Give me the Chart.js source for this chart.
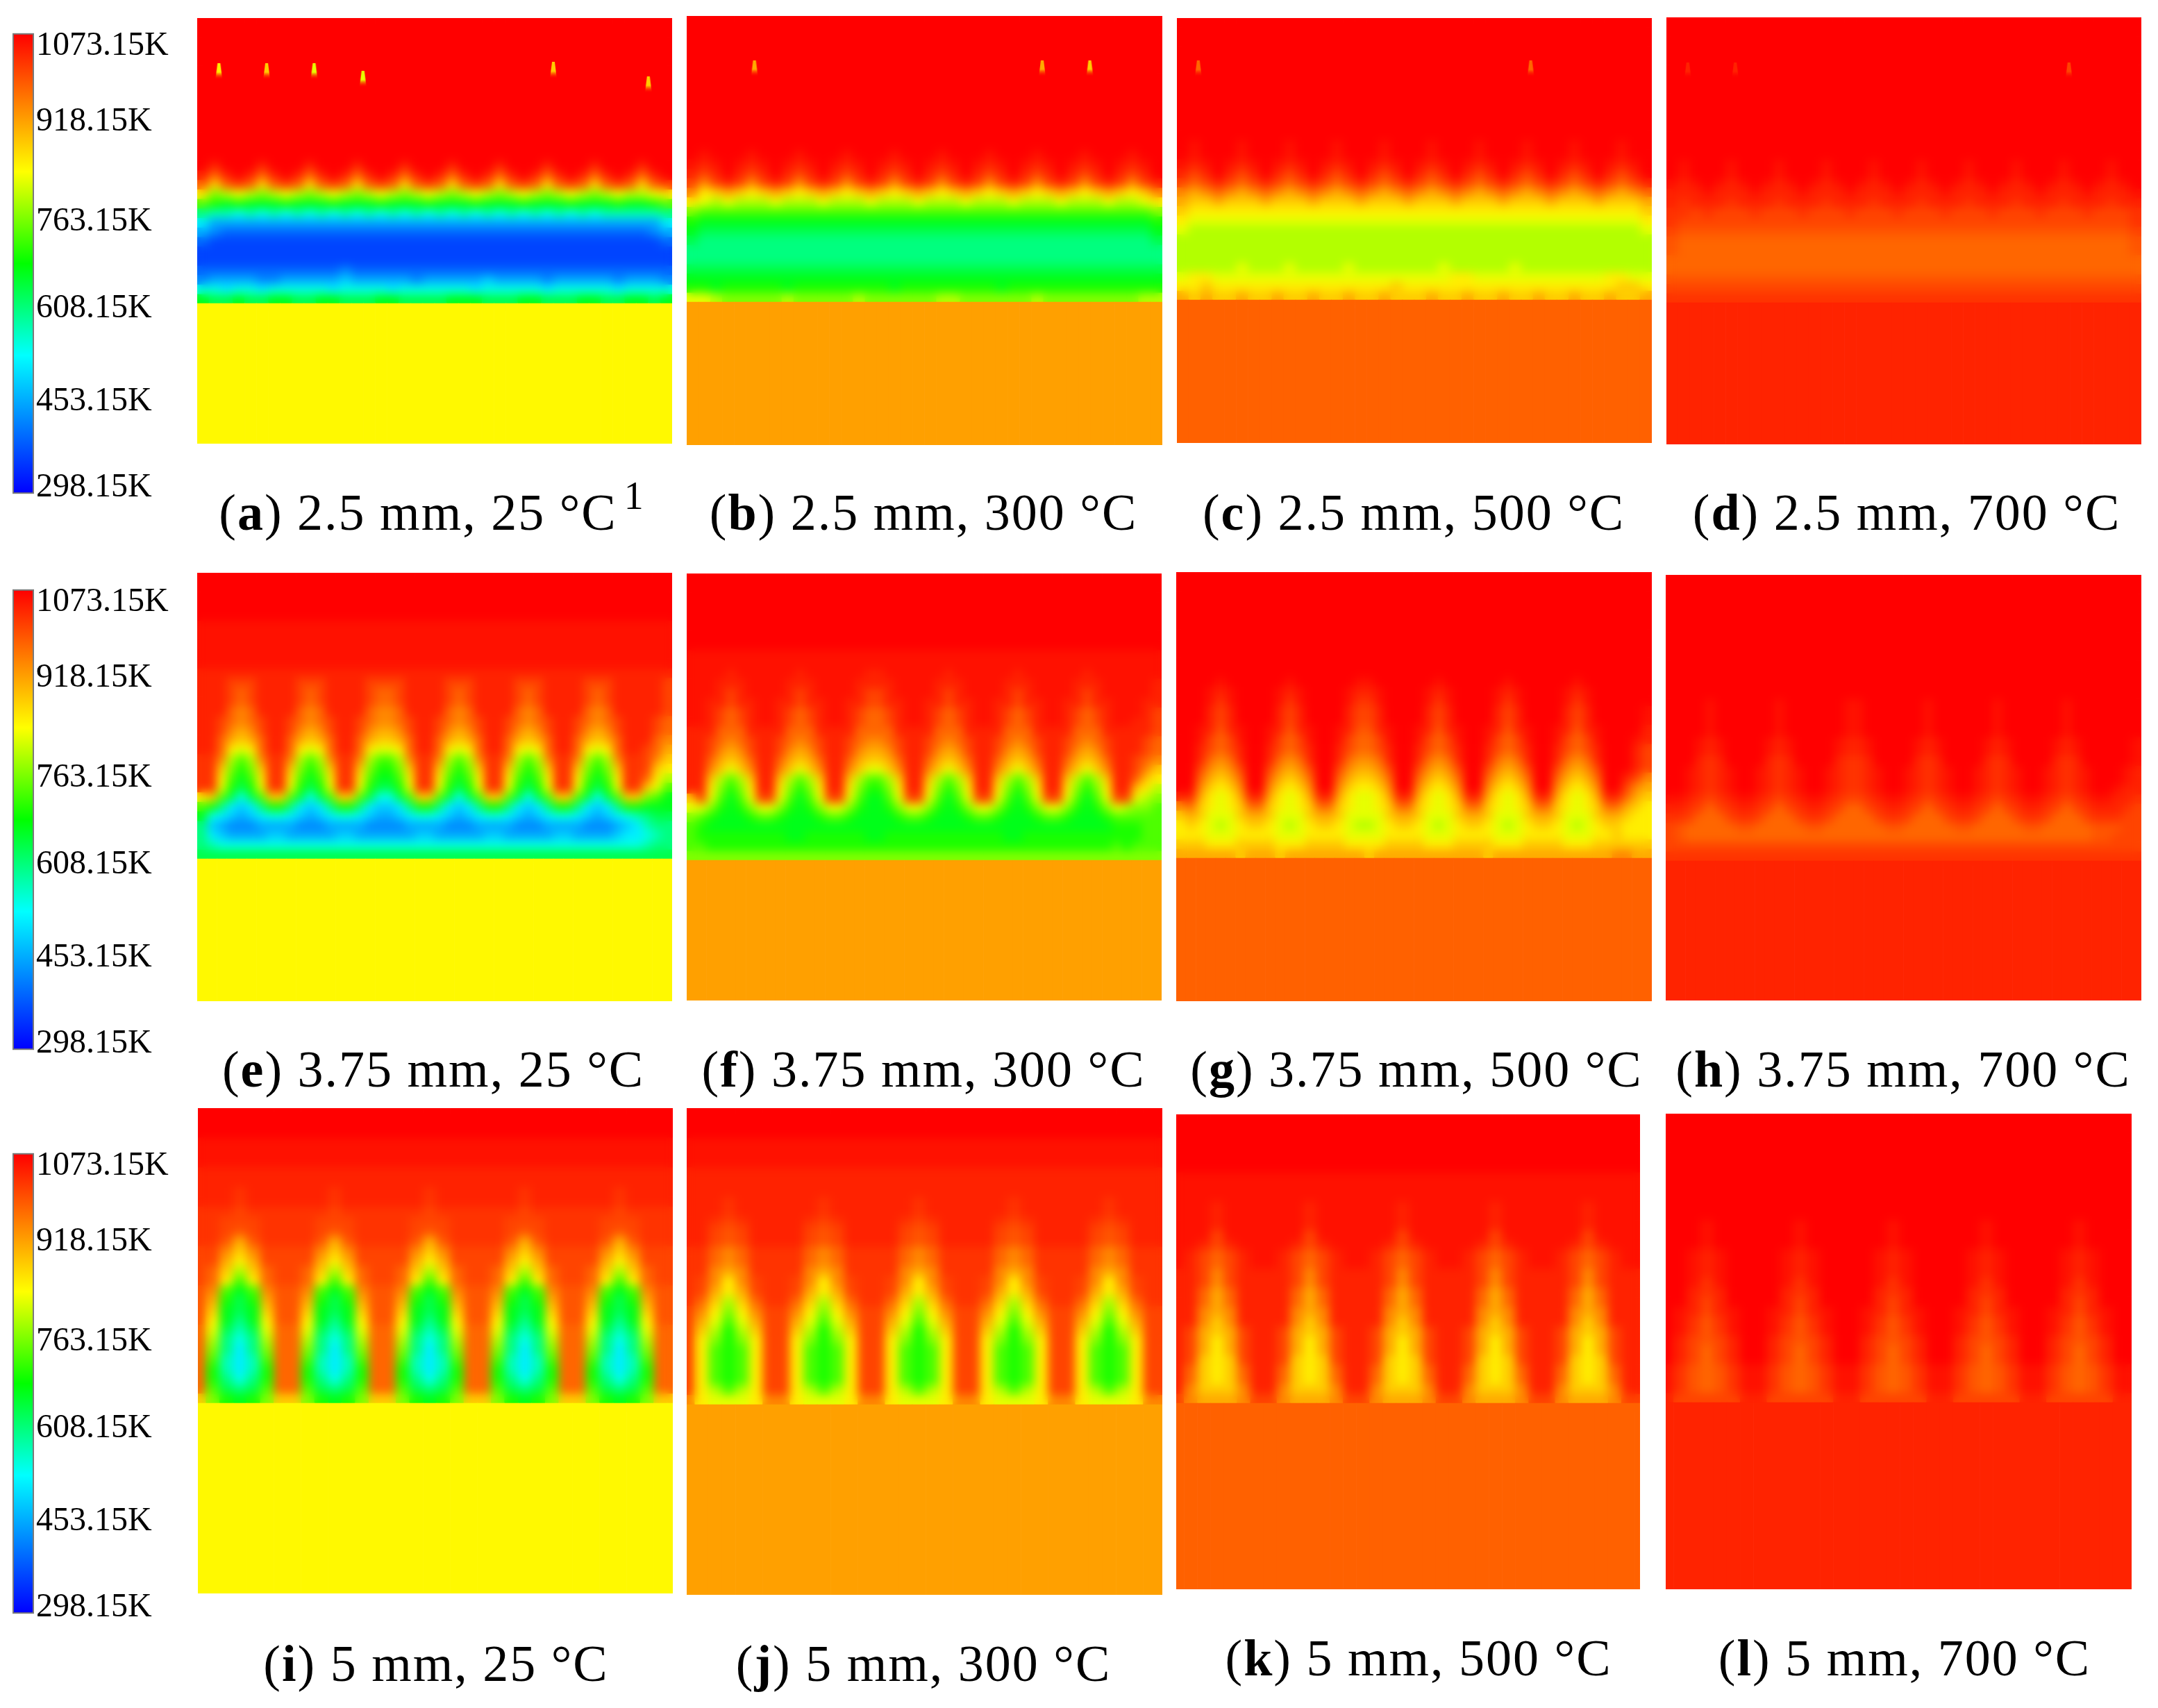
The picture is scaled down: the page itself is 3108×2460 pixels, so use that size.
<!DOCTYPE html>
<html>
<head>
<meta charset="utf-8">
<title>Temperature fields</title>
<script src="https://cdn.jsdelivr.net/npm/chart.js@4/dist/chart.umd.min.js"></script>
<style>
  html, body { margin: 0; padding: 0; background: #fff; }
  #page { position: relative; width: 3108px; height: 2460px; overflow: hidden; }
  #page canvas { position: absolute; }
  .caption { position: absolute; transform: translateX(-50%); white-space: nowrap; color: #000;
             font: 74px/80px "Liberation Serif", serif; letter-spacing: 2px; }
  .caption sup { font-size: 56px; line-height: 0; vertical-align: 30px; margin-left: 10px; }
</style>
</head>
<body>
<div id="page"></div>
<script>
// --- DATA ---
// legend of the colour bar
const tickLabels = ['1073.15K', '918.15K', '763.15K', '608.15K', '453.15K', '298.15K'];
const tickPositions = [1052, 925, 756, 610, 453, 307];
const tempMin = 298.15;
const tempMax = 1073.15;

// panel captions
const captionTags = ['a', 'b', 'c', 'd', 'e', 'f', 'g', 'h', 'i', 'j', 'k', 'l'];
const captionTexts = ['2.5 mm, 25 °C', '2.5 mm, 300 °C', '2.5 mm, 500 °C', '2.5 mm, 700 °C',
    '3.75 mm, 25 °C', '3.75 mm, 300 °C', '3.75 mm, 500 °C', '3.75 mm, 700 °C',
    '5 mm, 25 °C', '5 mm, 300 °C', '5 mm, 500 °C', '5 mm, 700 °C'];

// temperature of the solid layer in each panel, K
const solidTemps = [846, 927, 985, 1041, 846, 927, 985, 1041, 846, 927, 985, 1041];

// One letter per cell, A = 298 K ... Z = 1073 K, lower case is half a level above
// its capital. A single letter fills the row.
const fieldA = ['Z','Z','Z','Z','Z','Z','Z','Z','Z','Z','Z','Z','Z','Z','Z',
    'ZYZZ ZYZZ ZYZZ ZYZZ ZYZZ ZYZZ ZYZZ ZYZZ ZYZZ ZYZZ',
    'YWYZ YWYZ YWYZ YWYZ YWYZ YWYZ YWYZ YWYZ YWYZ YWYZ',
    'WTWX WTWX WTWX WTWX WTWX WTWX WTWX WTWX WTWX WTWX',
    'SPQR QPQR QPQR QPQR QPQR QPQR QPQR QPQR QPQR QQRS',
    'ONMN MMMN MMMN MMMN MMMN MMMN MMMN MMMN MMMN MMNO',
    'KJJI JIJI JIJI JIJI JIJI JIJI JIJI JIJI JIJJ JJJK',
    'HFFF FFFF FFFF FFFF FFFF FFFF FFFF FFFF FFFF FFFH',
    'FEDD DDDD DDDD DDDD DDDD DDDD DDDD DDDD DDDD DDEF',
    'DCCC CCCC CCCC CCCC CCCC CCCC CCCC CCCC CCCC CCCD',
    'C',
    'C',
    'DDDD DDDD DDDD EDDD DDDD DDDD DDDD DDDD DDDD DDDD',
    'EFFF FEEF FFFF GFFF FFEF FFFF GFFF FEFF FFFE FFFE',
    'IIHI IHII IIIH IIII HIII IIIH IIII IHII IIIH IIII',
    'MLLM LLMM LLMM LLLM MLLL LMMM LLLM MLLL MMLL MMLM'];

const fieldB = ['Z','Z','Z','Z','Z','Z','Z','Z','Z','Z','Z','Z','Z','Z',
    'ZyZZ ZyZZ ZyZZ ZyZZ ZyZZ ZyZZ ZyZZ ZyZZ ZyZZ ZyZZ',
    'yYyZ yYyZ yYyZ yYyZ yYyZ yYyZ yYyZ yYyZ yYyZ yYyZ',
    'YXYZ YXYZ YXYZ YXYZ YXYZ YXYZ YXYZ YXYZ YXYZ YXYZ',
    'XVXY XVXY XVXY XVXY XVXY XVXY XVXY XVXY XVXY XVXY',
    'VSTU TSTU TSTU TSTU TSTU TSTU TSTU TSTU TSTU TSTV',
    'SRQR QQQR QQQR QQQR QQQR QQQR QQQR QQQR QQQR QQRS',
    'POOO OOOO OOOO OOOO OOOO OOOO OOOO OOOO OOOO OOOP',
    'NMMM MMMM MMMM MMMM MMMM MMMM MMMM MMMM MMMM MMMN',
    'MLLL LLLL LLLL LLLL LLLL LLLL LLLL LLLL LLLL LLLM',
    'LKKK KKKK KKKK KKKK KKKK KKKK KKKK KKKK KKKK KKKL',
    'K',
    'K',
    'LLLL LLLL LLLL LLLL LLLL LLLL LLLL LLLL LLLL LLLL',
    'MMMM MMMM MMMM MMMM MMMM MMMM MMMM MMMM MMMM MMMM',
    'NNMN NNNN MNNN NNNN NMNN NNNN NNMN NNNN NNNN NNNN',
    'RRQP PPPP QPPP PPQP PPPP PQQP PPPP PQPP PPPP PPQQ'];

const fieldC = ['Z','Z','Z','Z','Z','Z','Z','Z','Z','Z','Z','Z','Z',
    'ZyZZ ZyZZ ZyZZ ZyZZ ZyZZ ZyZZ ZyZZ ZyZZ ZyZZ ZyZZ',
    'ZyZZ ZyZZ ZyZZ ZyZZ ZyZZ ZyZZ ZyZZ ZyZZ ZyZZ ZyZZ',
    'yYyZ yYyZ yYyZ yYyZ yYyZ yYyZ yYyZ yYyZ yYyZ yYyZ',
    'YXYZ YXYZ YXYZ YXYZ YXYZ YXYZ YXYZ YXYZ YXYZ YXYZ',
    'XWXY XWXY XWXY XWXY XWXY XWXY XWXY XWXY XWXY XWXY',
    'VUVW VUVW VUVW VUVW VUVW VUVW VUVW VUVW VUVW VUVW',
    'UTTU TTTU TTTU TTTU TTTU TTTU TTTU TTTU TTTU TTTU',
    'TSSS SSSS SSSS SSSS SSSS SSSS SSSS SSSS SSSS SSST',
    'SRRR RRRR RRRR RRRR RRRR RRRR RRRR RRRR RRRR RRRS',
    'RQQQ QQQQ QQQQ QQQQ QQQQ QQQQ QQQQ QQQQ QQQQ QQQR',
    'Q',
    'Q',
    'Q',
    'QQQQ QRQQ QRQQ QQRQ QQQQ QQRQ QQQQ RQQQ QQQQ QQQQ',
    'RSSR RRRR RRRR RRRR RRRR RRRS SRRR RRRR RRRR SSRR',
    'SSTS SSSS SSSS SSSS SSTS SSSS SSSS SSSS SSSS STTS',
    'UTUT TUTT UTTU TTUT TUTT TUTT UTTU TTUT TUTT UTTU'];

const fieldD = ['Z','Z','Z','Z','Z','Z','Z','Z','Z','Z','Z','Z','Z','Z','Z',
    'ZyZZ ZyZZ ZyZZ ZyZZ ZyZZ ZyZZ ZyZZ ZyZZ ZyZZ ZyZZ',
    'ZyZZ ZyZZ ZyZZ ZyZZ ZyZZ ZyZZ ZyZZ ZyZZ ZyZZ ZyZZ',
    'yYyZ yYyZ yYyZ yYyZ yYyZ yYyZ yYyZ yYyZ yYyZ yYyZ',
    'YYYy YYYy YYYy YYYy YYYy YYYy YYYy YYYy YYYy YYYy',
    'YxYY YxYY YxYY YxYY YxYY YxYY YxYY YxYY YxYY YxYY',
    'xxXx XXXx XXXx XXXx XXXx XXXx XXXx XXXx XXXx XXXx',
    'xXXX XXXX XXXX XXXX XXXX XXXX XXXX XXXX XXXX XXXx',
    'Xwww wwww wwww wwww wwww wwww wwww wwww wwww wwwX',
    'wWWW WWWW WWWW WWWW WWWW WWWW WWWW WWWW WWWW WWWw',
    'wWWW WWWW WWWW WWWW WWWW WWWW WWWW WWWW WWWW WWWw',
    'W',
    'W',
    'w','X','x'];

const fieldE = ['Z','Z','Z','Z','Z','y','y','y','y','y','Y',
    'Y YYXXXYY YYXXXYY YYXXXXYY YYXXXYY YYXXXYY YYXXXYY YYYX',
    'Y YYXWXYY YYXWXYY YYXWWXYY YYXWXYY YYXWXYY YYXWXYY YYYX',
    'Y YYXWXYY YYXWXYY YYXWWXYY YYXWXYY YYXWXYY YYXWXYY YYYX',
    'Y YYWVWYY YYWVWYY YYWVVWYY YYWVWYY YYWVWYY YYWVWYY YYYX',
    'Y YXWVWXY YXWVWXY YXWVVWXY YXWVWXY YXWVWXY YXWVWXY YYXW',
    'Y YXVUVXY YXVUVXY YXVUUVXY YXVUVXY YXVUVXY YXVUVXY YYXW',
    'Y YWUTUWY YWUTUWY YWUTTUWY YWUTUWY YWUTUWY YWUTUWY YYWV',
    'Y YWSRSWY YWSRSWY YWSRRSWY YWSRSWY YWSRSWY YWSRSWY YXWU',
    'x xVQOQVx xVQOQVx xVQOOQVx xVQOQVx xVQOQVx xVQOQVx xXVT',
    'x xTPNPTx xTPNPTx xTPNNPTx xTPNPTx xTPNPTx xTPNPTx xXTS',
    'x xSOMOSx xSOMOSx xSOMMOSx xSOMOSx xSOMOSx xSOMOSx xWSQ',
    'x xRNLNRx xRNLNRx xRNLLNRx xRNLNRx xRNLNRx xRNLNRx xTRO',
    'S TOLILOT TOLILOT TOLIILOT TOLILOT TOLILOT TOLILOT TPOM',
    'O NKHGHKN NKHGHKN NKHGGHKN NKHGHKN NKHGHKN NKHGHKN NMMM',
    'M IHGFGHI IHGFGHI IHGFFGHI IHGFGHI IHGFGHI IHGFGHI JKLL',
    'K GFEEEFF FFEEEFF FFEEEEFF FFEEEFF FFEEEFF FFEEEFG HJKK',
    'K HGFFFFG GFFFFFG GFFFFFFG GFFFFFG GFFFFFG GFFFFGH HIJK',
    'K JIIIIII IIIIIII IIIIIIII IIIIIII IIIIIII IIIIIII IJKK',
    'L'];

const fieldF = ['Z','Z','Z','Z','Z','Z','Z','Z','y','y',
    'y yyyYyyy yyyYyyy yyyYYyyy yyyYyyy yyyYyyy yyyYyyy yyyy',
    'y yyYYYyy yyYYYyy yyYYYYyy yyYYYyy yyYYYyy yyYYYyy yyyY',
    'y yyYXYyy yyYXYyy yyYXXYyy yyYXYyy yyYXYyy yyYXYyy yyyY',
    'y yYYXYYy yYYXYYy yYYXXYYy yYYXYYy yYYXYYy yYYXYYy yyYY',
    'y yYXWXYy yYXWXYy yYXWWXYy yYXWXYy yYXWXYy yYXWXYy yyYX',
    'y yYXWXYy yYXWXYy yYXWWXYy yYXWXYy yYXWXYy yYXWXYy yYYX',
    'Y YYWWWYY YYWWWYY YYWWWWYY YYWWWYY YYWWWYY YYWWWYY YYYX',
    'Y YXWVWXY YXWVWXY YXWVVWXY YXWVWXY YXWVWXY YXWVWXY YYXW',
    'Y YXVUVXY YXVUVXY YXVUUVXY YXVUVXY YXVUVXY YXVUVXY YYXW',
    'Y YWUTUWY YWUTUWY YWUTTUWY YWUTUWY YWUTUWY YWUTUWY YXWV',
    'Y YVTRTVY YVTRTVY YVTRRTVY YVTRTVY YVTRTVY YVTRTVY YXVT',
    'Y YTQOQTY YTQOQTY YTQOOQTY YTQOQTY YTQOQTY YTQOQTY YWTS',
    'Y YSPNPSY YSPNPSY YSPNNPSY YSPNPSY YSPNPSY YSPNPSY YTSQ',
    'T XROMORX XROMORX XROMMORX XROMORX XROMORX XROMORX XRQP',
    'R RPNMNPR RPNMNPR RPNMMNPR RPNMNPR RPNMNPR RPNMNPR QPPO',
    'P ONMMMNO ONMMMNO ONMMMMNO ONMMMNO ONMMMNO ONMMMNO OOOO',
    'O NMMMMMM MMMMMMM MMMMMMMM MMMMMMM MMMMMMM MMMMMMN NNOO',
    'O NNNNNNN NNMMNNN NNNMMNNN NNNNNNN NNMMNNN NNNNNNN NNOO',
    'O ONNNNNN NNNNNNN NNNNNNNN NNNNNNN NNNNNNN NNNNNNO NOOO',
    'P'];

const fieldG = ['Z','Z','Z','Z','Z','Z','Z','Z','Z','Z','Z',
    'Z ZZZyZZZ ZZZyZZZ ZZZyyZZZ ZZZyZZZ ZZZyZZZ ZZZyZZZ ZZZZ',
    'Z ZZyYyZZ ZZyYyZZ ZZyYYyZZ ZZyYyZZ ZZyYyZZ ZZyYyZZ ZZZZ',
    'Z ZZyxyZZ ZZyxyZZ ZZyxxyZZ ZZyxyZZ ZZyxyZZ ZZyxyZZ ZZZZ',
    'Z ZZYXYZZ ZZYXYZZ ZZYXXYZZ ZZYXYZZ ZZYXYZZ ZZYXYZZ ZZZy',
    'Z ZZYXYZZ ZZYXYZZ ZZYXXYZZ ZZYXYZZ ZZYXYZZ ZZYXYZZ ZZZy',
    'Z ZyYwYyZ ZyYwYyZ ZyYwwYyZ ZyYwYyZ ZyYwYyZ ZyYwYyZ ZZZY',
    'Z ZyXWXyZ ZyXWXyZ ZyXWWXyZ ZyXWXyZ ZyXWXyZ ZyXWXyZ ZZyY',
    'Z ZYXWXYZ ZYXWXYZ ZYXWWXYZ ZYXWXYZ ZYXWXYZ ZYXWXYZ ZZYX',
    'Z ZYWVWYZ ZYWVWYZ ZYWVVWYZ ZYWVWYZ ZYWVWYZ ZYWVWYZ ZZYX',
    'Z ZXVUVXZ ZXVUVXZ ZXVUUVXZ ZXVUVXZ ZXVUVXZ ZXVUVXZ ZZYX',
    'Z ZWUTUWZ ZWUTUWZ ZWUTTUWZ ZWUTUWZ ZWUTUWZ ZWUTUWZ ZYXV',
    'Z ZVTSTVZ ZVTSTVZ ZVTSSTVZ ZVTSTVZ ZVTSTVZ ZVTSTVZ ZXVU',
    'Y YUSRSUY YUSRSUY YUSRRSUY YUSRSUY YUSRSUY YUSRSUY YWUT',
    'V WTSRSTW WTSRSTW WTSRRSTW WTSRSTW WTSRSTW WTSRSTW WUTS',
    'T UTRRRTU UTRRRTU UTRRRRTU UTRRRTU UTRRRTU UTRRRTU UTSS',
    'S TSRQRST TSRQRST TSRQQRST TSRQRST TSRQRST TSRQRST TSSS',
    'S SSRRRSS SSRRRSS SSRRRRSS SSRRRSS SSRRRSS SSRRRSS TSSS',
    'T TTSSSTT TTSSSTT TTSSSSTT TTSSSTT TTSSSTT TTSSSTT TTTT',
    'U UUUUUTU UUTUUUU UUUUTUUU UUUUUUU UTUUUUU UUUUUUU VVUU'];

const fieldH = ['Z','Z','Z','Z','Z','Z','Z','Z','Z','Z','Z','Z','Z',
    'Z ZZZyZZZ ZZZyZZZ ZZZyyZZZ ZZZyZZZ ZZZyZZZ ZZZyZZZ ZZZZ',
    'Z ZZZyZZZ ZZZyZZZ ZZZyyZZZ ZZZyZZZ ZZZyZZZ ZZZyZZZ ZZZZ',
    'Z ZZZyZZZ ZZZyZZZ ZZZyyZZZ ZZZyZZZ ZZZyZZZ ZZZyZZZ ZZZZ',
    'Z ZZZyZZZ ZZZyZZZ ZZZyyZZZ ZZZyZZZ ZZZyZZZ ZZZyZZZ ZZZZ',
    'Z ZZyYyZZ ZZyYyZZ ZZyYYyZZ ZZyYyZZ ZZyYyZZ ZZyYyZZ ZZZy',
    'Z ZZyYyZZ ZZyYyZZ ZZyYYyZZ ZZyYyZZ ZZyYyZZ ZZyYyZZ ZZZy',
    'Z ZZYxYZZ ZZYxYZZ ZZYxxYZZ ZZYxYZZ ZZYxYZZ ZZYxYZZ ZZZy',
    'Z ZyYxYyZ ZyYxYyZ ZyYxxYyZ ZyYxYyZ ZyYxYyZ ZyYxYyZ ZZyY',
    'Z ZyYxYyZ ZyYxYyZ ZyYxxYyZ ZyYxYyZ ZyYxYyZ ZyYxYyZ ZZyY',
    'Z ZyYxYyZ ZyYxYyZ ZyYxxYyZ ZyYxYyZ ZyYxYyZ ZyYxYyZ ZyYY',
    'y yYxXxYy yYxXxYy yYxXXxYy yYxXxYy yYxXxYy yYxXxYy yYYx',
    'Y YxXWXxY YxXWXxY YxXWWXxY YxXWXxY YxXWXxY YxXWXxY YYxX',
    'x xXWWWXx xXWWWXx xXWWWWXx xXWWWXx xXWWWXx xXWWWXx xxXX',
    'X wWWWWWw wWWWWWw wWWWWWWw wWWWWWw wWWWWWw wWWWWWw wwXX',
    'X wWWWWWW WWWWWWW WWWWWWWW WWWWWWW WWWWWWW WWWWWWw wXXX',
    'X','x'];

const fieldI = ['Z','Z','Z','y','y','y','Y','Y',
    'YYYxYYY YYYxYYY YYYxYYY YYYxYYY YYYxYYY Y',
    'YYYxYYY YYYxYYY YYYxYYY YYYxYYY YYYxYYY Y',
    'xxxXxxx xxxXxxx xxxXxxx xxxXxxx xxxXxxx x',
    'xxXXXxx xxXXXxx xxXXXxx xxXXXxx xxXXXxx x',
    'xxXwXxx xxXwXxx xxXwXxx xxXwXxx xxXwXxx x',
    'xxwUwxx xxwUwxx xxwUwxx xxwUwxx xxwUwxx x',
    'XXVTVXX XXVTVXX XXVTVXX XXVTVXX XXVTVXX X',
    'XXUSUXX XXUSUXX XXUSUXX XXUSUXX XXUSUXX X',
    'XWTQTWX XWTQTWX XWTQTWX XWTQTWX XWTQTWX X',
    'XWSOSWX XWSOSWX XWSOSWX XWSOSWX XWSOSWX X',
    'wVOMOVw wVOMOVw wVOMOVw wVOMOVw wVOMOVw w',
    'wUNLNUw wUNLNUw wUNLNUw wUNLNUw wUNLNUw w',
    'wTMLMTw wTMLMTw wTMLMTw wTMLMTw wTMLMTw w',
    'wSMKMSw wSMKMSw wSMKMSw wSMKMSw wSMKMSw w',
    'WRLJLRW WRLJLRW WRLJLRW WRLJLRW WRLJLRW W',
    'WQKIKQW WQKIKQW WQKIKQW WQKIKQW WQKIKQW W',
    'WPKHKPW WPKHKPW WPKHKPW WPKHKPW WPKHKPW W',
    'WOJHJOW WOJHJOW WOJHJOW WOJHJOW WOJHJOW W',
    'WNJHJNW WNJHJNW WNJHJNW WNJHJNW WNJHJNW W',
    'WNKIKNW WNKIKNW WNKIKNW WNKIKNW WNKIKNW W',
    'WOLKLOW WOLKLOW WOLKLOW WOLKLOW WOLKLOW W',
    'TPNMNPT TPNMNPT TPNMNPT TPNMNPT TPNMNPT T'];

const fieldJ = ['Z','Z','Z','y','y','y','Y','Y','Y',
    'YYYxYYY YYYxYYY YYYxYYY YYYxYYY YYYxYYY Y',
    'YYYxYYY YYYxYYY YYYxYYY YYYxYYY YYYxYYY Y',
    'YYxXxYY YYxXxYY YYxXxYY YYxXxYY YYxXxYY Y',
    'YYXwXYY YYXwXYY YYXwXYY YYXwXYY YYXwXYY Y',
    'YYXwXYY YYXwXYY YYXwXYY YYXwXYY YYXwXYY Y',
    'xxWVWxx xxWVWxx xxWVWxx xxWVWxx xxWVWxx x',
    'xxWVWxx xxWVWxx xxWVWxx xxWVWxx xxWVWxx x',
    'xxVUVxx xxVUVxx xxVUVxx xxVUVxx xxVUVxx x',
    'xXVSVXx xXVSVXx xXVSVXx xXVSVXx xXVSVXx x',
    'xXUSUXx xXUSUXx xXUSUXx xXUSUXx xXUSUXx x',
    'xWTQTWx xWTQTWx xWTQTWx xWTQTWx xWTQTWx x',
    'XVSPSVX XVSPSVX XVSPSVX XVSPSVX XVSPSVX X',
    'XURORUX XURORUX XURORUX XURORUX XURORUX X',
    'XTQNQTX XTQNQTX XTQNQTX XTQNQTX XTQNQTX X',
    'XSPNPSX XSPNPSX XSPNPSX XSPNPSX XSPNPSX X',
    'XSONOSX XSONOSX XSONOSX XSONOSX XSONOSX X',
    'XSONOSX XSONOSX XSONOSX XSONOSX XSONOSX X',
    'XSONOSX XSONOSX XSONOSX XSONOSX XSONOSX X',
    'XSONOSX XSONOSX XSONOSX XSONOSX XSONOSX X',
    'XSQOQSX XSQOQSX XSQOQSX XSQOQSX XSQOQSX X',
    'VSRRRSV VSRRRSV VSRRRSV VSRRRSV VSRRRSV V'];

const fieldK = ['Z','Z','Z','Z','Z','Z','y','y','y',
    'yyyYyyy yyyYyyy yyyYyyy yyyYyyy yyyYyyy y',
    'yyyYyyy yyyYyyy yyyYyyy yyyYyyy yyyYyyy y',
    'yyyYyyy yyyYyyy yyyYyyy yyyYyyy yyyYyyy y',
    'yyyXyyy yyyXyyy yyyXyyy yyyXyyy yyyXyyy y',
    'yyYXYyy yyYXYyy yyYXYyy yyYXYyy yyYXYyy y',
    'yYXWXYy yYXWXYy yYXWXYy yYXWXYy yYXWXYy y',
    'yYXWXYy yYXWXYy yYXWXYy yYXWXYy yYXWXYy y',
    'YYXVXYY YYXVXYY YYXVXYY YYXVXYY YYXVXYY Y',
    'YYXVXYY YYXVXYY YYXVXYY YYXVXYY YYXVXYY Y',
    'YYWUWYY YYWUWYY YYWUWYY YYWUWYY YYWUWYY Y',
    'YYWUWYY YYWUWYY YYWUWYY YYWUWYY YYWUWYY Y',
    'YYVUVYY YYVUVYY YYVUVYY YYVUVYY YYVUVYY Y',
    'YYVTVYY YYVTVYY YYVTVYY YYVTVYY YYVTVYY Y',
    'YXUTUXY YXUTUXY YXUTUXY YXUTUXY YXUTUXY Y',
    'YXUSUXY YXUSUXY YXUSUXY YXUSUXY YXUSUXY Y',
    'YXUSUXY YXUSUXY YXUSUXY YXUSUXY YXUSUXY Y',
    'YXTSTXY YXTSTXY YXTSTXY YXTSTXY YXTSTXY Y',
    'YWTSTWY YWTSTWY YWTSTWY YWTSTWY YWTSTWY Y',
    'YWTSTWY YWTSTWY YWTSTWY YWTSTWY YWTSTWY Y',
    'YVTTTVY YVTTTVY YVTTTVY YVTTTVY YVTTTVY Y',
    'XVUUUVX XVUUUVX XVUUUVX XVUUUVX XVUUUVX X'];

const fieldL = ['Z','Z','Z','Z','Z','Z','Z','Z','Z','Z','Z',
    'ZZZyZZZ ZZZyZZZ ZZZyZZZ ZZZyZZZ ZZZyZZZ Z',
    'ZZZyZZZ ZZZyZZZ ZZZyZZZ ZZZyZZZ ZZZyZZZ Z',
    'ZZZyZZZ ZZZyZZZ ZZZyZZZ ZZZyZZZ ZZZyZZZ Z',
    'ZZyYyZZ ZZyYyZZ ZZyYyZZ ZZyYyZZ ZZyYyZZ Z',
    'ZZyYyZZ ZZyYyZZ ZZyYyZZ ZZyYyZZ ZZyYyZZ Z',
    'ZZyYyZZ ZZyYyZZ ZZyYyZZ ZZyYyZZ ZZyYyZZ Z',
    'ZZyxyZZ ZZyxyZZ ZZyxyZZ ZZyxyZZ ZZyxyZZ Z',
    'ZZYxYZZ ZZYxYZZ ZZYxYZZ ZZYxYZZ ZZYxYZZ Z',
    'ZZYXYZZ ZZYXYZZ ZZYXYZZ ZZYXYZZ ZZYXYZZ Z',
    'ZyYXYyZ ZyYXYyZ ZyYXYyZ ZyYXYyZ ZyYXYyZ Z',
    'ZyxwxyZ ZyxwxyZ ZyxwxyZ ZyxwxyZ ZyxwxyZ Z',
    'ZyxwxyZ ZyxwxyZ ZyxwxyZ ZyxwxyZ ZyxwxyZ Z',
    'ZYXwXYZ ZYXwXYZ ZYXwXYZ ZYXwXYZ ZYXwXYZ Z',
    'ZYXWXYZ ZYXWXYZ ZYXWXYZ ZYXWXYZ ZYXWXYZ Z',
    'ZYXWXYZ ZYXWXYZ ZYXWXYZ ZYXWXYZ ZYXWXYZ Z',
    'yxwWwxy yxwWwxy yxwWwxy yxwWwxy yxwWwxy y',
    'yxwWwxy yxwWwxy yxwWwxy yxwWwxy yxwWwxy y',
    'yxwWwxy yxwWwxy yxwWwxy yxwWwxy yxwWwxy y',
    'YXXXXXY YXXXXXY YXXXXXY YXXXXXY YXXXXXY Y'];

// small hot spots near the top of the 2.5 mm panels: column, row, level
const spotsA = [[1.83, 5.6, 'S'], [5.85, 5.6, 'T'], [9.85, 5.6, 'R'], [13.96, 6.4, 'R'], [30, 5.5, 'T'], [38, 7, 'T']];
const spotsB = [[5.7, 5.5, 'U'], [29.9, 5.5, 'U'], [33.9, 5.5, 'T']];
const spotsC = [[1.8, 5.4, 'W'], [29.8, 5.4, 'W']];
const spotsD = [[1.8, 5.6, 'Y'], [5.8, 5.6, 'Y'], [33.9, 5.6, 'X']];

// --- LAYOUT ---
// left, top, right, bottom, top of the solid layer (pixels)
const panelBoxes = [
    [284, 26, 968, 639, 437], [989, 23, 1674, 641, 435], [1695, 26, 2379, 638, 432], [2400, 25, 3084, 640, 436],
    [284, 825, 968, 1442, 1237], [989, 826, 1673, 1441, 1239], [1694, 824, 2379, 1442, 1236], [2399, 828, 3084, 1441, 1240],
    [285, 1596, 969, 2295, 2021], [989, 1596, 1674, 2297, 2023], [1694, 1605, 2362, 2289, 2021], [2399, 1604, 3070, 2289, 2020]
];
const captionBoxes = [
    [622, 698], [1330, 698], [2036, 698], [2746, 698],
    [624, 1500], [1330, 1500], [2040, 1500], [2741, 1500],
    [628, 2356], [1330, 2356], [2043, 2348], [2743, 2348]
];
const colorbarTops = [46, 847, 1659];
const fieldOffsets = [0, 0, 0, 0, 0, 0, 0, 0, 0.4, 0.4, 0.4, 0.4];
const allFields = [fieldA, fieldB, fieldC, fieldD, fieldE, fieldF, fieldG, fieldH, fieldI, fieldJ, fieldK, fieldL];
const allSpots = [spotsA, spotsB, spotsC, spotsD];

// --- COLOURS ---
const levelChars = 'ABCDEFGHIJKLMNOPQRSTUVWXYZ';
const colorStops = [[0, [0, 0, 255]], [0.3, [0, 255, 255]], [0.5, [0, 255, 0]], [0.7, [255, 255, 0]], [1, [255, 0, 0]]];

function levelTemp(ch) {
    const upper = ch.toUpperCase();
    const level = levelChars.indexOf(upper) + (ch === upper ? 0 : 0.5);
    return tempMin + level / 25 * (tempMax - tempMin);
}

function tempColor(temp) {
    const f = Math.min(1, Math.max(0, (temp - tempMin) / (tempMax - tempMin)));
    for (let i = 1; i < colorStops.length; i++) {
        if (f <= colorStops[i][0]) {
            const [f0, c0] = colorStops[i - 1];
            const [f1, c1] = colorStops[i];
            const t = (f - f0) / (f1 - f0);
            return `rgb(${c0.map((c, k) => Math.round(c + (c1[k] - c) * t)).join(',')})`;
        }
    }
    return 'rgb(255,0,0)';
}

// Softens everything drawn so far (the gas field), before the solid layer goes on top.
const softenField = {
    id: 'softenField',
    beforeDatasetDraw(chart, args) {
        if (chart.data.datasets[args.index].label !== 'solid') return;
        const { ctx, canvas, chartArea } = chart;
        ctx.save();
        ctx.beginPath();
        ctx.rect(chartArea.left, chartArea.top, chartArea.width, chartArea.height);
        ctx.clip();
        ctx.filter = 'blur(7px)';
        ctx.drawImage(canvas, 0, 0);
        ctx.restore();
    }
};

// Marker for a hot spot: a narrow upright wedge fading out at the bottom.
function spotMarker(color) {
    const marker = document.createElement('canvas');
    marker.width = 12;
    marker.height = 24;
    const ctx = marker.getContext('2d');
    const fade = ctx.createLinearGradient(0, 0, 0, 24);
    fade.addColorStop(0, color);
    fade.addColorStop(0.55, color);
    fade.addColorStop(1, 'rgba(255,0,0,0)');
    ctx.fillStyle = fade;
    ctx.beginPath();
    ctx.moveTo(4, 0);
    ctx.lineTo(8, 0);
    ctx.lineTo(11, 24);
    ctx.lineTo(1, 24);
    ctx.closePath();
    ctx.fill();
    return marker;
}

function addCanvas(left, top, width, height) {
    const canvas = document.createElement('canvas');
    canvas.width = width;
    canvas.height = height;
    canvas.style.left = left + 'px';
    canvas.style.top = top + 'px';
    canvas.style.width = width + 'px';
    canvas.style.height = height + 'px';
    document.getElementById('page').appendChild(canvas);
    return canvas;
}

function renderPanel(index) {
    const [left, top, right, bottom, solidTop] = panelBoxes[index];
    const field = allFields[index];
    const offset = fieldOffsets[index];
    const rows = field.map(row => row.replace(/ /g, ''));
    const cols = Math.max(...rows.map(row => row.length));
    const shownCols = offset ? cols - 1 : cols;
    const yMax = rows.length * (bottom - top) / (solidTop - top);
    const colIndex = Array.from({ length: cols }, (_, c) => c);

    const datasets = rows.map((row, r) => ({
        type: 'bar',
        order: 2,
        label: 'row ' + r,
        data: colIndex.map(c => ({ x: c + 0.5, y: [r, r + 1] })),
        backgroundColor: colIndex.map(c => tempColor(levelTemp(row[Math.min(c, row.length - 1)]))),
        barPercentage: 1,
        categoryPercentage: 1,
        grouped: false
    }));

    datasets.push({
        type: 'bar',
        order: 1,
        label: 'solid',
        data: colIndex.map(c => ({ x: c + 0.5, y: [rows.length, yMax] })),
        backgroundColor: tempColor(solidTemps[index]),
        barPercentage: 1,
        categoryPercentage: 1,
        grouped: false
    });

    const spots = allSpots[index];
    if (spots) {
        datasets.push({
            type: 'scatter',
            order: 0,
            label: 'spots',
            data: spots.map(s => ({ x: s[0], y: s[1] })),
            pointStyle: spots.map(s => spotMarker(tempColor(levelTemp(s[2])))),
            pointRadius: 8
        });
    }

    new Chart(addCanvas(left, top, right - left, bottom - top), {
        type: 'bar',
        data: { datasets },
        plugins: [softenField],
        options: {
            responsive: false,
            animation: false,
            devicePixelRatio: 1,
            layout: { padding: 0, autoPadding: false },
            plugins: { legend: { display: false }, title: { display: false }, tooltip: { enabled: false } },
            scales: {
                x: {
                    type: 'linear',
                    display: false,
                    min: offset,
                    max: offset + shownCols,
                    afterBuildTicks: axis => { axis.ticks = []; }
                },
                y: { type: 'linear', display: false, reverse: true, min: 0, max: yMax,
                    afterBuildTicks: axis => { axis.ticks = []; } }
            }
        }
    });
}

function colorbarFill(context) {
    const { chart } = context;
    if (!chart.chartArea) return '#888';
    const { ctx, chartArea } = chart;
    const gradient = ctx.createLinearGradient(0, chartArea.bottom, 0, chartArea.top);
    colorStops.forEach(([f, c]) => gradient.addColorStop(f, `rgb(${c.join(',')})`));
    return gradient;
}

const colorbarFrame = {
    id: 'colorbarFrame',
    afterDatasetsDraw(chart) {
        const { ctx, chartArea } = chart;
        ctx.save();
        ctx.strokeStyle = '#7a7a7a';
        ctx.lineWidth = 2;
        ctx.strokeRect(chartArea.left, chartArea.top, chartArea.width, chartArea.height);
        ctx.restore();
    }
};

function renderColorbar(barTop) {
    new Chart(addCanvas(0, barTop - 30, 270, 727), {
        type: 'bar',
        data: {
            labels: [''],
            datasets: [{
                data: [[tempMin, tempMax]],
                backgroundColor: colorbarFill,
                barPercentage: 1,
                categoryPercentage: 1
            }]
        },
        plugins: [colorbarFrame],
        options: {
            responsive: false,
            animation: false,
            devicePixelRatio: 1,
            layout: { padding: { left: 19, top: 30, bottom: 30, right: 0 }, autoPadding: false },
            plugins: { legend: { display: false }, title: { display: false }, tooltip: { enabled: false } },
            scales: {
                x: { display: false },
                y: {
                    position: 'right',
                    min: tempMin,
                    max: tempMax,
                    grid: { display: false, drawTicks: false },
                    border: { display: false },
                    afterBuildTicks: axis => { axis.ticks = tickPositions.map(value => ({ value })); },
                    afterFit: axis => { axis.width = 222; },
                    ticks: {
                        autoSkip: false,
                        padding: 4,
                        color: '#000',
                        font: { family: '"Liberation Serif", serif', size: 48 },
                        callback: (value, i) => tickLabels[i]
                    }
                }
            }
        }
    });
}

function renderCaption(index) {
    const [x, y] = captionBoxes[index];
    const div = document.createElement('div');
    div.className = 'caption';
    div.style.left = x + 'px';
    div.style.top = y + 'px';
    div.innerHTML = `(<b>${captionTags[index]}</b>) ${captionTexts[index]}` + (index === 0 ? '<sup>1</sup>' : '');
    document.getElementById('page').appendChild(div);
}

// --- INITIALIZATION ---
allFields.forEach((_, i) => renderPanel(i));
colorbarTops.forEach(renderColorbar);
captionTags.forEach((_, i) => renderCaption(i));
</script>
</body>
</html>
